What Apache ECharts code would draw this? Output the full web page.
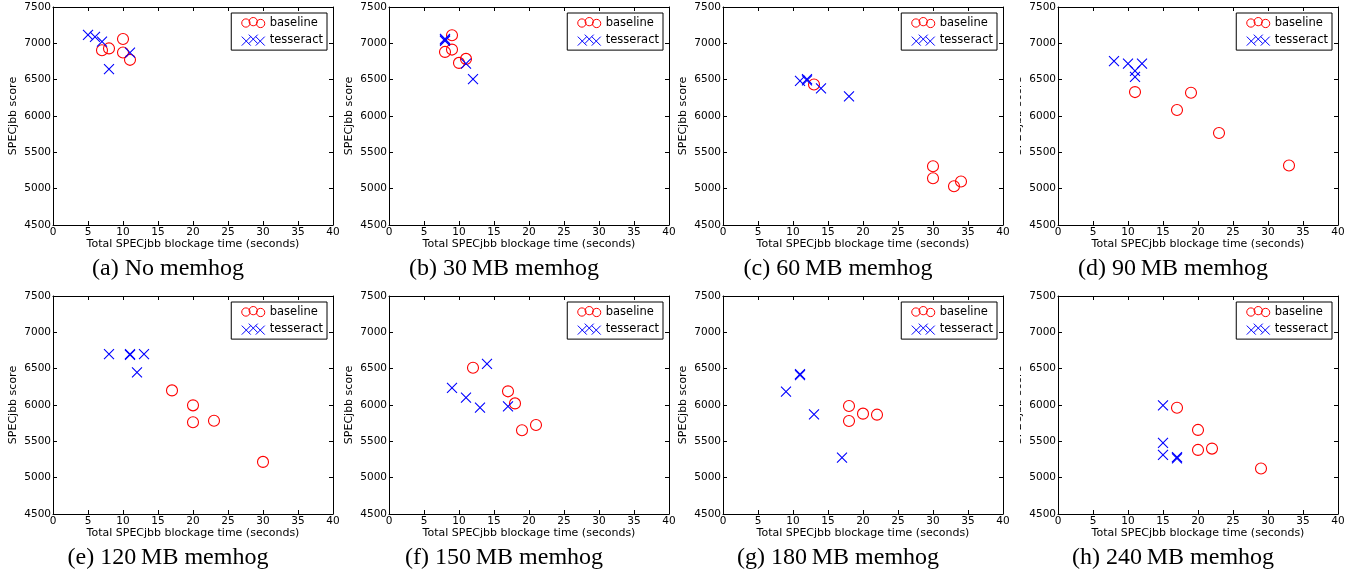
<!DOCTYPE html>
<html>
<head>
<meta charset="utf-8">
<script src="https://cdn.jsdelivr.net/npm/echarts@6/dist/echarts.min.js"></script>
<style>
html, body { margin: 0; padding: 0; background: #fff; }
#chart { width: 1364px; height: 575px; }
</style>
</head>
<body>
<div id="chart"></div>
<script>
// panel captions
var captions = ['(a) No memhog', '(b) 30\u2009MB memhog', '(c) 60\u2009MB memhog', '(d) 90\u2009MB memhog',
  '(e) 120\u2009MB memhog', '(f) 150\u2009MB memhog', '(g) 180\u2009MB memhog', '(h) 240\u2009MB memhog'];

// [blockage seconds, SPECjbb score]
var baseA = [[7, 6905], [8, 6930], [10, 7060], [10, 6873], [11, 6773]];
var tessA = [[5, 7116], [6, 7088], [7, 7024], [8, 6645], [11, 6873]];
var baseB = [[9, 7111], [8, 6882], [9, 6914], [10, 6731], [11, 6786]];
var tessB = [[8, 7060], [8, 7035], [8, 7050], [11, 6722], [12, 6507]];
var baseC = [[13, 6434], [30, 5309], [30, 5144], [33, 5034], [34, 5098]];
var tessC = [[11, 6484], [12, 6507], [12, 6490], [14, 6379], [18, 6269]];
var baseD = [[11, 6329], [17, 6082], [19, 6320], [23, 5766], [33, 5318]];
var tessD = [[8, 6754], [10, 6722], [11, 6622], [11, 6539], [12, 6722]];
var baseE = [[17, 6201], [20, 5995], [20, 5762], [23, 5784], [30, 5217]];
var tessE = [[8, 6700], [11, 6700], [11, 6690], [13, 6700], [12, 6450]];
var baseF = [[12, 6512], [17, 6188], [18, 6022], [19, 5652], [21, 5725]];
var tessF = [[9, 6237], [11, 6100], [13, 5963], [14, 6567], [17, 5981]];
var baseG = [[18, 5986], [18, 5780], [20, 5881], [22, 5867]];
var tessG = [[9, 6183], [11, 6411], [11, 6425], [13, 5872], [17, 5277]];
var baseH = [[17, 5963], [20, 5657], [20, 5382], [22, 5400], [29, 5126]];
var tessH = [[15, 5995], [15, 5478], [15, 5313], [17, 5281], [17, 5265]];

var baselines = [baseA, baseB, baseC, baseD, baseE, baseF, baseG, baseH];
var tesseracts = [tessA, tessB, tessC, tessD, tessE, tessF, tessG, tessH];

var xMin = 0, xMax = 40, xStep = 5;
var yMin = 4500, yMax = 7500, yStep = 500;

// layout of the 2x4 panels
var plotLefts = [53, 389, 723, 1058];
var rowTops = [7, 296];
var plotW = 280, plotH = 218;

var sans = 'DejaVu Sans';
var crossPath = 'path://M0,0L10,10M10,0L0,10';
var circles3 = 'path://M0.5,6.5a4.5,4.5 0 1,0 9,0a4.5,4.5 0 1,0 -9,0M8.5,5a4.5,4.5 0 1,0 9,0a4.5,4.5 0 1,0 -9,0M16.5,7a4.5,4.5 0 1,0 9,0a4.5,4.5 0 1,0 -9,0';
var crosses3 = 'path://M0,2L9,11M9,2L0,11M7,0L16,9M16,0L7,9M14,2L23,11M23,2L14,11';

var grids = [], xAxes = [], yAxes = [], series = [], legends = [], titles = [];
var mirrorX = [], mirrorY = [];

function tickStyle() {
  return { show: true, inside: true, length: 4, lineStyle: { color: '#000' } };
}
function plainNum(v) { return String(v); }

for (var i = 0; i < 8; i++) {
  var pLeft = plotLefts[i % 4];
  var pTop = rowTops[Math.floor(i / 4)];
  grids.push({ left: pLeft, top: pTop, width: plotW, height: plotH, outerBoundsMode: 'none' });

  xAxes.push({
    type: 'value', gridIndex: i, min: xMin, max: xMax, interval: xStep, position: 'bottom',
    axisLine: { onZero: false, lineStyle: { color: '#000', width: 1 } },
    axisTick: tickStyle(),
    axisLabel: { color: '#000', fontSize: 10.5, fontFamily: sans, margin: 2, formatter: plainNum },
    splitLine: { show: false },
    name: 'Total SPECjbb blockage time (seconds)', nameLocation: 'middle', nameGap: 14,
    nameMoveOverlap: false,
    nameTextStyle: { color: '#000', fontSize: 11, fontFamily: sans }
  });
  yAxes.push({
    type: 'value', gridIndex: i, min: yMin, max: yMax, interval: yStep, position: 'left',
    axisLine: { show: true, onZero: false, lineStyle: { color: '#000', width: 1 } },
    axisTick: tickStyle(),
    axisLabel: { color: '#000', fontSize: 10.5, fontFamily: sans, margin: 2, formatter: plainNum },
    splitLine: { show: false },
    name: 'SPECjbb score', nameLocation: 'middle', nameGap: 34, nameRotate: 90,
    nameMoveOverlap: false,
    nameTextStyle: { color: '#000', fontSize: 11, fontFamily: sans }
  });
  // mirrored frame + ticks on top and right
  mirrorX.push({
    type: 'value', gridIndex: i, min: xMin, max: xMax, interval: xStep, position: 'top',
    axisLine: { onZero: false, lineStyle: { color: '#000', width: 1 } },
    axisTick: tickStyle(), axisLabel: { show: false }, splitLine: { show: false }
  });
  mirrorY.push({
    type: 'value', gridIndex: i, min: yMin, max: yMax, interval: yStep, position: 'right',
    axisLine: { show: true, onZero: false, lineStyle: { color: '#000', width: 1 } },
    axisTick: tickStyle(), axisLabel: { show: false }, splitLine: { show: false }
  });

  series.push({
    name: 'baseline', type: 'scatter', xAxisIndex: i, yAxisIndex: i,
    symbol: 'circle', symbolSize: 11,
    itemStyle: { color: 'none', borderColor: '#ff0000', borderWidth: 1.1, opacity: 1 },
    data: baselines[i]
  });
  series.push({
    name: 'tesseract', type: 'scatter', xAxisIndex: i, yAxisIndex: i,
    symbol: crossPath, symbolSize: 10,
    itemStyle: { color: 'none', borderColor: '#0000ff', borderWidth: 1.1, opacity: 1 },
    data: tesseracts[i]
  });

  legends.push({
    orient: 'vertical', right: 1364 - (pLeft + plotW - 6), top: pTop + 6,
    backgroundColor: '#fff', borderColor: '#000', borderWidth: 1, borderRadius: 0,
    padding: [2, 4, 2, 8], itemGap: 2, itemWidth: 23, itemHeight: 12,
    selectedMode: false,
    textStyle: { color: '#000', fontSize: 11.5, fontFamily: sans, lineHeight: 13 },
    data: [
      { name: 'baseline', icon: circles3, itemStyle: { color: 'none', borderColor: '#ff0000', borderWidth: 1 } },
      { name: 'tesseract', icon: crosses3, itemStyle: { color: 'none', borderColor: '#0000ff', borderWidth: 1 } }
    ]
  });

  titles.push({
    text: captions[i], left: pLeft + plotW / 2 - 25, top: pTop + 250, textAlign: 'center', padding: 0,
    textStyle: { color: '#000', fontSize: 24, fontWeight: 'normal', fontFamily: 'Liberation Serif' }
  });
}

var chart = echarts.init(document.getElementById('chart'), null, { renderer: 'canvas' });
chart.setOption({
  animation: false,
  backgroundColor: '#fff',
  title: titles,
  grid: grids,
  xAxis: xAxes.concat(mirrorX),
  yAxis: yAxes.concat(mirrorY),
  legend: legends,
  series: series,
  graphic: [
    { type: 'rect', z: 100, shape: { x: 1006, y: 0, width: 14, height: 224 }, style: { fill: '#fff' } },
    { type: 'rect', z: 100, shape: { x: 1006, y: 290, width: 14, height: 223 }, style: { fill: '#fff' } }
  ]
});
</script>
</body>
</html>
